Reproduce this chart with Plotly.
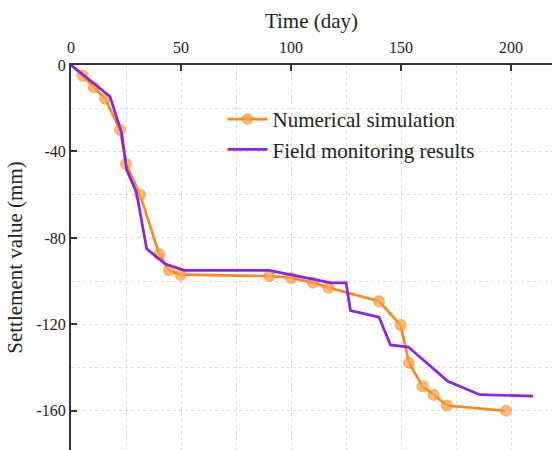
import plotly.graph_objects as go

# Numerical simulation (orange, with markers)
sim_days = [0, 5.3, 10.4, 15.5, 22.3, 25.0, 31.4, 40.1, 44.5, 49.8, 90.2, 100.0,
            110.0, 117.0, 140.0, 149.8, 153.6, 159.8, 164.8, 170.9, 197.7]
sim_vals = [0, -5.0, -10.3, -15.5, -30.0, -45.8, -60.0, -87.5, -95.0, -97.0, -97.6,
            -98.5, -100.7, -103.0, -109.3, -120.3, -137.8, -148.6, -152.5, -157.5, -160.0]

# Field monitoring results (purple line)
field_days = [0, 17.7, 23.0, 25.3, 29.8, 34.4, 42.7, 49.5, 51.5, 90.0, 118.2, 125.0,
              127.0, 140.0, 145.2, 153.3, 171.3, 185.8, 210.0]
field_vals = [0, -14.6, -31.4, -48.4, -59.2, -85.0, -92.0, -94.2, -95.0, -95.0, -100.8,
              -100.8, -113.6, -116.7, -129.5, -130.5, -146.3, -152.5, -153.2]

x_ticks = [0, 50, 100, 150, 200]
y_ticks = [0, -40, -80, -120, -160]

ORANGE = "#F8891E"
PURPLE = "#8B22E8"
FONT = "Liberation Serif"

fig = go.Figure()
fig.add_trace(go.Scatter(
    x=sim_days, y=sim_vals, mode="lines+markers", name="Numerical simulation",
    line=dict(color=ORANGE, width=2.7),
    marker=dict(size=[0] + [12] * (len(sim_days) - 1), color=ORANGE,
                gradient=dict(type="radial", color="#FFB25A"),
                line=dict(width=0)),
    cliponaxis=False,
))
fig.add_trace(go.Scatter(
    x=field_days, y=field_vals, mode="lines", name="Field monitoring results",
    line=dict(color=PURPLE, width=2.7),
    cliponaxis=False,
))

grid = dict(showgrid=True, gridcolor="#DADADA", griddash="dot", gridwidth=1)

fig.update_layout(
    width=552, height=450,
    margin=dict(l=71, r=0, t=65, b=0),
    paper_bgcolor="white", plot_bgcolor="white",
    font=dict(family=FONT, color="#222222", size=16),
    showlegend=True,
    legend=dict(x=0.315, y=0.912, xanchor="left", yanchor="top",
                bgcolor="rgba(0,0,0,0)", font=dict(family=FONT, size=21, color="#222222"),
                tracegroupgap=0, itemwidth=40),
    xaxis=dict(
        side="top", range=[0, 218.6], tickvals=x_ticks, ticktext=[str(v) for v in x_ticks],
        ticks="inside", ticklen=6, tickwidth=2, tickcolor="#333333",
        showline=True, linecolor="#333333", linewidth=2, zeroline=False,
        title=dict(text="Time (day)", font=dict(family=FONT, size=21), standoff=4),
        tickfont=dict(family=FONT, size=16), ticklabelstandoff=4,
        minor=dict(dtick=25, tick0=0, showgrid=True, gridcolor="#DADADA", griddash="dot"),
        **grid,
    ),
    yaxis=dict(
        range=[-178.1, 0], tickvals=y_ticks, ticktext=[str(v) for v in y_ticks],
        ticks="inside", ticklen=6, tickwidth=2, tickcolor="#333333",
        showline=True, linecolor="#333333", linewidth=2, zeroline=False,
        title=dict(text="Settlement value (mm)", font=dict(family=FONT, size=21), standoff=8),
        tickfont=dict(family=FONT, size=16),
        minor=dict(dtick=20, tick0=0, showgrid=True, gridcolor="#DADADA", griddash="dot"),
        **grid,
    ),
)

fig.write_html("out.html")
